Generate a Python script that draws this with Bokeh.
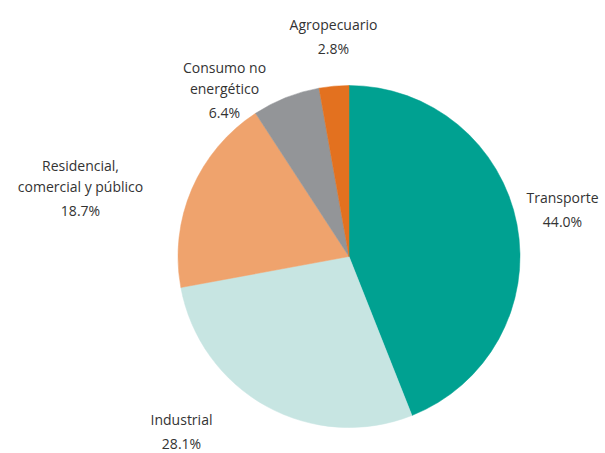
import math
from bokeh.plotting import figure
from bokeh.models import Range1d, ColumnDataSource
from bokeh.core.properties import value
from bokeh.embed import file_html
from bokeh.resources import INLINE

# Data
sectors = ["Transporte", "Industrial", "Residencial,\ncomercial y público",
           "Consumo no\nenergético", "Agropecuario"]
shares = [44.0, 28.1, 18.7, 6.4, 2.8]
colors = ["#00A191", "#C7E5E2", "#EFA36D", "#939598", "#E3711F"]

# Layout (screen pixel coords of label centres: first line x, y)
label_pos = [(562, 197), (181, 419), (80, 165), (224, 67), (333, 24)]

W, H = 605, 453
p = figure(width=W, height=H, output_backend="svg", toolbar_location=None,
           x_range=Range1d(0, W), y_range=Range1d(0, H),
           min_border=0, outline_line_color=None)
p.axis.visible = False
p.grid.visible = False
p.background_fill_color = "white"

cx, cy, r = 348.5, H - 256, 171
total = sum(shares)
start = []
end = []
acc = 0.0
for s in shares:
    a0 = math.radians(90 - 360 * acc / total)
    acc += s
    a1 = math.radians(90 - 360 * acc / total)
    start.append(a0)
    end.append(a1)

src = ColumnDataSource(dict(start=start, end=end, color=colors))
p.wedge(x=cx, y=cy, radius=r, start_angle="start", end_angle="end",
        direction="clock", fill_color="color", line_color="color",
        line_width=0.5, source=src)

tx, ty, tt = [], [], []
for name, s, (lx, ly) in zip(sectors, shares, label_pos):
    lines = name.split("\n") + [f"{s:.1f}%"]
    for i, ln in enumerate(lines):
        tx.append(lx)
        ty.append(H - (ly + i * 21 + (3 if i == len(lines) - 1 else 0)))
        tt.append(ln)

p.text(x=tx, y=ty, text=tt, text_font=value("Open Sans"),
       text_font_size="14px", text_color="#333333",
       text_align="center", text_baseline="middle")

open("out.html", "w").write(file_html(p, INLINE))
